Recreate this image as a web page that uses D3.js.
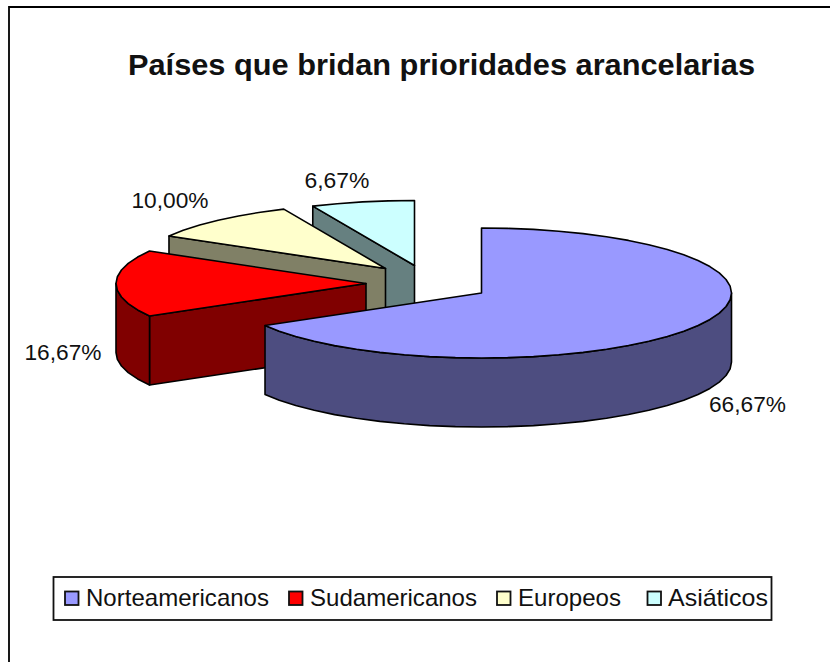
<!DOCTYPE html>
<html><head><meta charset="utf-8">
<script src="https://cdn.jsdelivr.net/npm/d3@7"></script>
<style>html,body{margin:0;background:#fff}svg{display:block}text{font-family:"Liberation Sans",Arial,sans-serif;fill:#111}</style>
</head><body><svg id="c" width="830" height="662"></svg>
<script>
const categories = ["Norteamericanos","Sudamericanos","Europeos","Asiáticos"];
const values = [66.67,16.67,10.00,6.67];
const valueLabels = ["66,67%","16,67%","10,00%","6,67%"];
const topColors = ["#9999ff","#ff0000","#ffffcc","#ccffff"];
const wallColors = ["#4d4d80","#800000","#808066","#668080"];
const chartTitle = "Países que bridan prioridades arancelarias";

// layout
const centers = [[481.5,293],[366,283.5],[385.5,268.5],[414.5,265.5]];
const rx=250, ry=65, depth=69;
const labelPos = [[747.5,404],[63,352],[170,200],[337,180]];
const labelW = [77,77,77,65];
const legendX = [86,310,518,668];
const legendW = [183,167,103,100];
const swatchX = [65,289,497,647.5];

const svg = d3.select("#c");
svg.append("path").attr("d","M9,662V7H830").attr("fill","none").attr("stroke","#000").attr("stroke-width",1.8);
svg.append("text").attr("x",128).attr("y",75)
  .attr("font-size",29).attr("font-weight","bold").attr("textLength",627).attr("lengthAdjust","spacingAndGlyphs").text(chartTitle);

const arcs = d3.pie().sort(null).value(d=>d)(values);
const pt=(i,a,dz=0)=>[centers[i][0]+rx*Math.sin(a), centers[i][1]-ry*Math.cos(a)+dz];
const line=d3.line();
const step=Math.PI/30;
function sweep(a0,a1){const n=Math.max(1,Math.round((a1-a0)/step));return d3.range(n+1).map(k=>a0+(a1-a0)*k/n);}
[3,2,1,0].forEach(i=>{
  const d=arcs[i], c=centers[i], as=sweep(d.startAngle,d.endAngle);
  const g=svg.append("g").attr("stroke","#000").attr("stroke-width",1.6).attr("stroke-linejoin","round");
  const c0=[c[0],c[1]], c1=[c[0],c[1]+depth];
  // radial wall facing the viewer
  if(Math.sin(d.startAngle)<-1e-6){
    g.append("path").attr("fill",wallColors[i]).attr("d",line([c0,pt(i,d.startAngle),pt(i,d.startAngle,depth),c1])+"Z");
  }
  // outer wall: only the half of the rim that faces the viewer
  const w0=Math.max(d.startAngle,Math.PI/2), w1=Math.min(d.endAngle,3*Math.PI/2);
  if(w1>w0){
    const ws=sweep(w0,w1);
    g.append("path").attr("fill",wallColors[i]).attr("d",line(ws.map(a=>pt(i,a)).concat(ws.map(a=>pt(i,a,depth)).reverse()))+"Z");
  }
  // top face
  g.append("path").attr("fill",topColors[i]).attr("d",line([c0].concat(as.map(a=>pt(i,a))))+"Z");
});
labelPos.forEach((p,i)=>{
  svg.append("text").attr("x",p[0]-labelW[i]/2).attr("y",p[1]+8).attr("font-size",22)
    .attr("textLength",labelW[i]).attr("lengthAdjust","spacingAndGlyphs").text(valueLabels[i]);
});
// legend
svg.append("rect").attr("x",53.5).attr("y",577).attr("width",718).attr("height",43).attr("fill","#fff").attr("stroke","#111").attr("stroke-width",1.8);
categories.forEach((n,i)=>{
  svg.append("rect").attr("x",swatchX[i]).attr("y",591.5).attr("width",13.5).attr("height",13.5).attr("fill",topColors[i]).attr("stroke","#111").attr("stroke-width",1.8);
  svg.append("text").attr("x",legendX[i]).attr("y",606).attr("font-size",24)
    .attr("textLength",legendW[i]).attr("lengthAdjust","spacingAndGlyphs").text(n);
});
</script></body></html>
